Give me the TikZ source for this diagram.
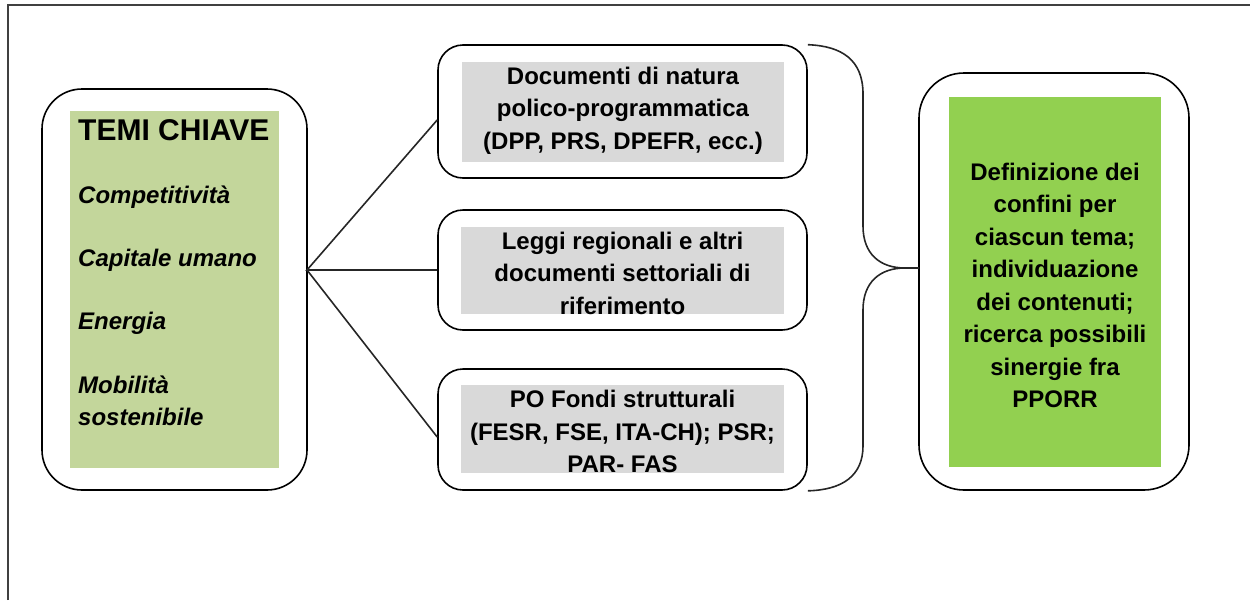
\documentclass[tikz,border=0pt]{standalone}
\usepackage{fontspec}
\setmainfont{Liberation Sans}
\usetikzlibrary{calc}
\definecolor{oliveL}{HTML}{C3D69B}
\definecolor{brightG}{HTML}{92D050}
\definecolor{grayF}{HTML}{D9D9D9}
\definecolor{frameC}{HTML}{404040}
\tikzset{
  outerbox/.style={draw=black, line width=1.6pt, fill=white, rectangle, inner sep=0pt},
  fillbox/.style={rectangle, inner sep=0pt, draw=none},
  txt/.style={font=\fontsize{24}{32.5}\selectfont\bfseries, inner sep=0pt},
  conn/.style={draw=black!85, line width=1.6pt},
}
\begin{document}
\begin{tikzpicture}[x=1pt, y=-1pt]
\useasboundingbox (0,0) rectangle (1250,600);
% frame
\draw[frameC, line width=1.8pt] (8,600) -- (8,5) -- (1250,5);

% left box
\node[outerbox, rounded corners=40pt, minimum width=265pt, minimum height=401pt] (L) at (174.5,289.5) {};
\node[fillbox, fill=oliveL, minimum width=209pt, minimum height=357pt] (Lg) at (174.5,289.5) {};
\node[txt, anchor=west, font=\fontsize{30}{34}\selectfont\bfseries] (title) at (78,130) {TEMI CHIAVE};
\node[txt, anchor=west, font=\fontsize{24}{32}\selectfont\bfseries\itshape] (t1) at (78,197) {Competitività};
\node[txt, anchor=west, font=\fontsize{24}{32}\selectfont\bfseries\itshape] (t2) at (78,260) {Capitale umano};
\node[txt, anchor=west, font=\fontsize{24}{32}\selectfont\bfseries\itshape] (t3) at (78,323) {Energia};
\node[txt, anchor=west, font=\fontsize{24}{32}\selectfont\bfseries\itshape, align=left] (t4) at (78,400.5) {Mobilità\\sostenibile};

% middle boxes
\node[outerbox, rounded corners=25pt, minimum width=369pt, minimum height=133pt] (b1) at (622.5,111.5) {};
\node[fillbox, fill=grayF, minimum width=322pt, minimum height=100pt] (g1) at (623,112) {};
\node[txt, align=center] (x1) at (623,110.5) {Documenti di natura\\polico-programmatica\\(DPP, PRS, DPEFR, ecc.)};

\node[outerbox, rounded corners=25pt, minimum width=369pt, minimum height=120pt] (b2) at (622.5,270) {};
\node[fillbox, fill=grayF, minimum width=323pt, minimum height=87pt] (g2) at (622.5,270.5) {};
\node[txt, align=center] (x2) at (622.5,273) {Leggi regionali e altri\\documenti settoriali di\\riferimento};

\node[outerbox, rounded corners=25pt, minimum width=369pt, minimum height=121pt] (b3) at (622.5,429.5) {};
\node[fillbox, fill=grayF, minimum width=323pt, minimum height=88pt] (g3) at (622.5,429) {};
\node[txt, align=center] (x3) at (622.5,431.5) {PO Fondi strutturali\\(FESR, FSE, ITA-CH); PSR;\\PAR- FAS};

% right box
\node[outerbox, rounded corners=45pt, minimum width=270pt, minimum height=417pt] (R) at (1054,281.5) {};
\node[fillbox, fill=brightG, minimum width=212pt, minimum height=370pt] (Rg) at (1055,282) {};
\node[txt, align=center] (xr) at (1055,285.5) {Definizione dei\\confini per\\ciascun tema;\\individuazione\\dei contenuti;\\ricerca possibili\\sinergie fra\\PPORR};

% connectors
\coordinate (hub) at (307,270);
\draw[conn] ($(b1.west)+(0,8.5)$) -- (hub) -- (b2.west);
\draw[conn] (hub) -- ($(b3.west)+(0,7.5)$);

% brace
\coordinate (tip) at (919,268);
\draw[conn] ($(b1.north east)+(0,0.5)$) .. controls (842,46) and (863,60) .. (863,94) -- (863,226)
  .. controls (863,254) and (880,268) .. (905,268) -- (tip);
\draw[conn] (tip) -- (905,268) .. controls (880,268) and (863,282) .. (863,310) -- (863,446)
  .. controls (863,476) and (842,490) .. ($(b3.south east)+(0,0)$);
\end{tikzpicture}
\end{document}
